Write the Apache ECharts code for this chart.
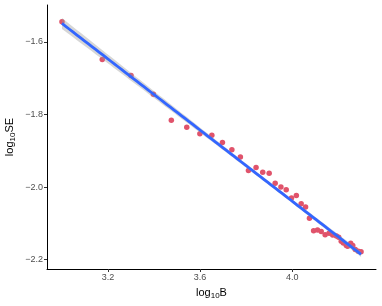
<!DOCTYPE html>
<html><head><meta charset="utf-8">
<script src="https://cdn.jsdelivr.net/npm/echarts@6/dist/echarts.min.js"></script>
<style>html,body{margin:0;padding:0;background:#fff}#c{width:382px;height:306px}</style>
</head><body><div id="c"></div>
<script>
// log10 B values
var logB = [3.000,3.175,3.300,3.397,3.475,3.542,3.599,3.651,3.697,3.738,3.775,3.810,3.843,3.872,3.900,3.926,3.951,3.974,3.997,4.018,4.039,4.058,4.075,4.093,4.110,4.126,4.143,4.160,4.176,4.192,4.202,4.213,4.222,4.235,4.241,4.254,4.263,4.274,4.287,4.299];
// log10 SE values
var logSE = [-1.544,-1.648,-1.692,-1.744,-1.816,-1.835,-1.853,-1.857,-1.877,-1.897,-1.917,-1.954,-1.946,-1.959,-1.962,-1.989,-2.000,-2.007,-2.030,-2.023,-2.046,-2.055,-2.086,-2.120,-2.118,-2.122,-2.131,-2.127,-2.132,-2.135,-2.138,-2.149,-2.154,-2.161,-2.163,-2.155,-2.161,-2.172,-2.177,-2.178];
var xTicks = [3.2,3.6,4.0];
var yTicks = [-2.2,-2.0,-1.8,-1.6];

// linear fit with 95% confidence band (as geom_smooth(method="lm"))
var n = logB.length, mx=0, my=0;
for (var i=0;i<n;i++){mx+=logB[i];my+=logSE[i];}
mx/=n; my/=n;
var sxx=0,sxy=0;
for (i=0;i<n;i++){sxx+=(logB[i]-mx)*(logB[i]-mx);sxy+=(logB[i]-mx)*(logSE[i]-my);}
var b=sxy/sxx, a=my-b*mx, sse=0;
for (i=0;i<n;i++){var r=logSE[i]-(a+b*logB[i]);sse+=r*r;}
var s=Math.sqrt(sse/(n-2)), tq=2.024;
var fit=[],low=[],upp=[];
var x0=logB[0], x1=logB[n-1], steps=80;
for (i=0;i<=steps;i++){
  var x=x0+(x1-x0)*i/steps, yh=a+b*x;
  var se=s*Math.sqrt(1/n+(x-mx)*(x-mx)/sxx);
  fit.push([x,yh]); low.push([x,yh-tq*se]); upp.push([x,yh+tq*se]);
}
var pts=logB.map(function(v,k){return [v,logSE[k]];});

var fontF='"Liberation Sans", Arial, sans-serif';
var chart=echarts.init(document.getElementById('c'),null,{renderer:'canvas'});
function fmt(v){return (Math.round(v*10)/10).toFixed(1).replace('-','\u2212');}
var richT={a:{fontSize:11,color:'#000',fontFamily:fontF},s:{fontSize:8,color:'#000',fontFamily:fontF,verticalAlign:'bottom',padding:[6,0,0,0]}};
chart.setOption({
  animation:false,
  grid:{left:47,right:6,top:5,bottom:37,containLabel:false,outerBoundsMode:'none'},
  xAxis:{type:'value',min:2.935,max:4.364,
    name:'{a|log}{s|10}{a|B}',nameLocation:'middle',nameGap:17,nameMoveOverlap:false,
    nameTextStyle:{rich:richT},
    axisLine:{show:true,onZero:false,lineStyle:{color:'#000',width:1}},
    axisTick:{show:true,length:3,lineStyle:{color:'#333'},customValues:xTicks},
    axisLabel:{customValues:xTicks,formatter:fmt,color:'#4d4d4d',fontSize:9,fontFamily:fontF,margin:4},
    splitLine:{show:false}},
  yAxis:{type:'value',min:-2.2257,max:-1.498,
    name:'{a|log}{s|10}{a|SE}',nameLocation:'middle',nameGap:30,nameRotate:90,nameMoveOverlap:false,
    nameTextStyle:{rich:richT},
    axisLine:{show:true,onZero:false,lineStyle:{color:'#000',width:1}},
    axisTick:{show:true,length:3,lineStyle:{color:'#333'},customValues:yTicks},
    axisLabel:{customValues:yTicks,formatter:fmt,color:'#4d4d4d',fontSize:9,fontFamily:fontF,margin:4},
    splitLine:{show:false}},
  series:[
    {type:'scatter',data:pts,symbolSize:5.5,itemStyle:{color:'#e0536b',opacity:1},z:2},
    {type:'custom',data:[[x0,a+b*x0]],z:3,silent:true,
      renderItem:function(params,api){
        var poly=[];
        for(var k=0;k<upp.length;k++) poly.push(api.coord(upp[k]));
        for(k=low.length-1;k>=0;k--) poly.push(api.coord(low[k]));
        return {type:'polygon',shape:{points:poly},style:{fill:'rgba(153,153,153,0.4)'}};
      }},
    {type:'line',data:fit,symbol:'none',lineStyle:{color:'#3366ff',width:2.8},z:4}
  ]
});
</script></body></html>
